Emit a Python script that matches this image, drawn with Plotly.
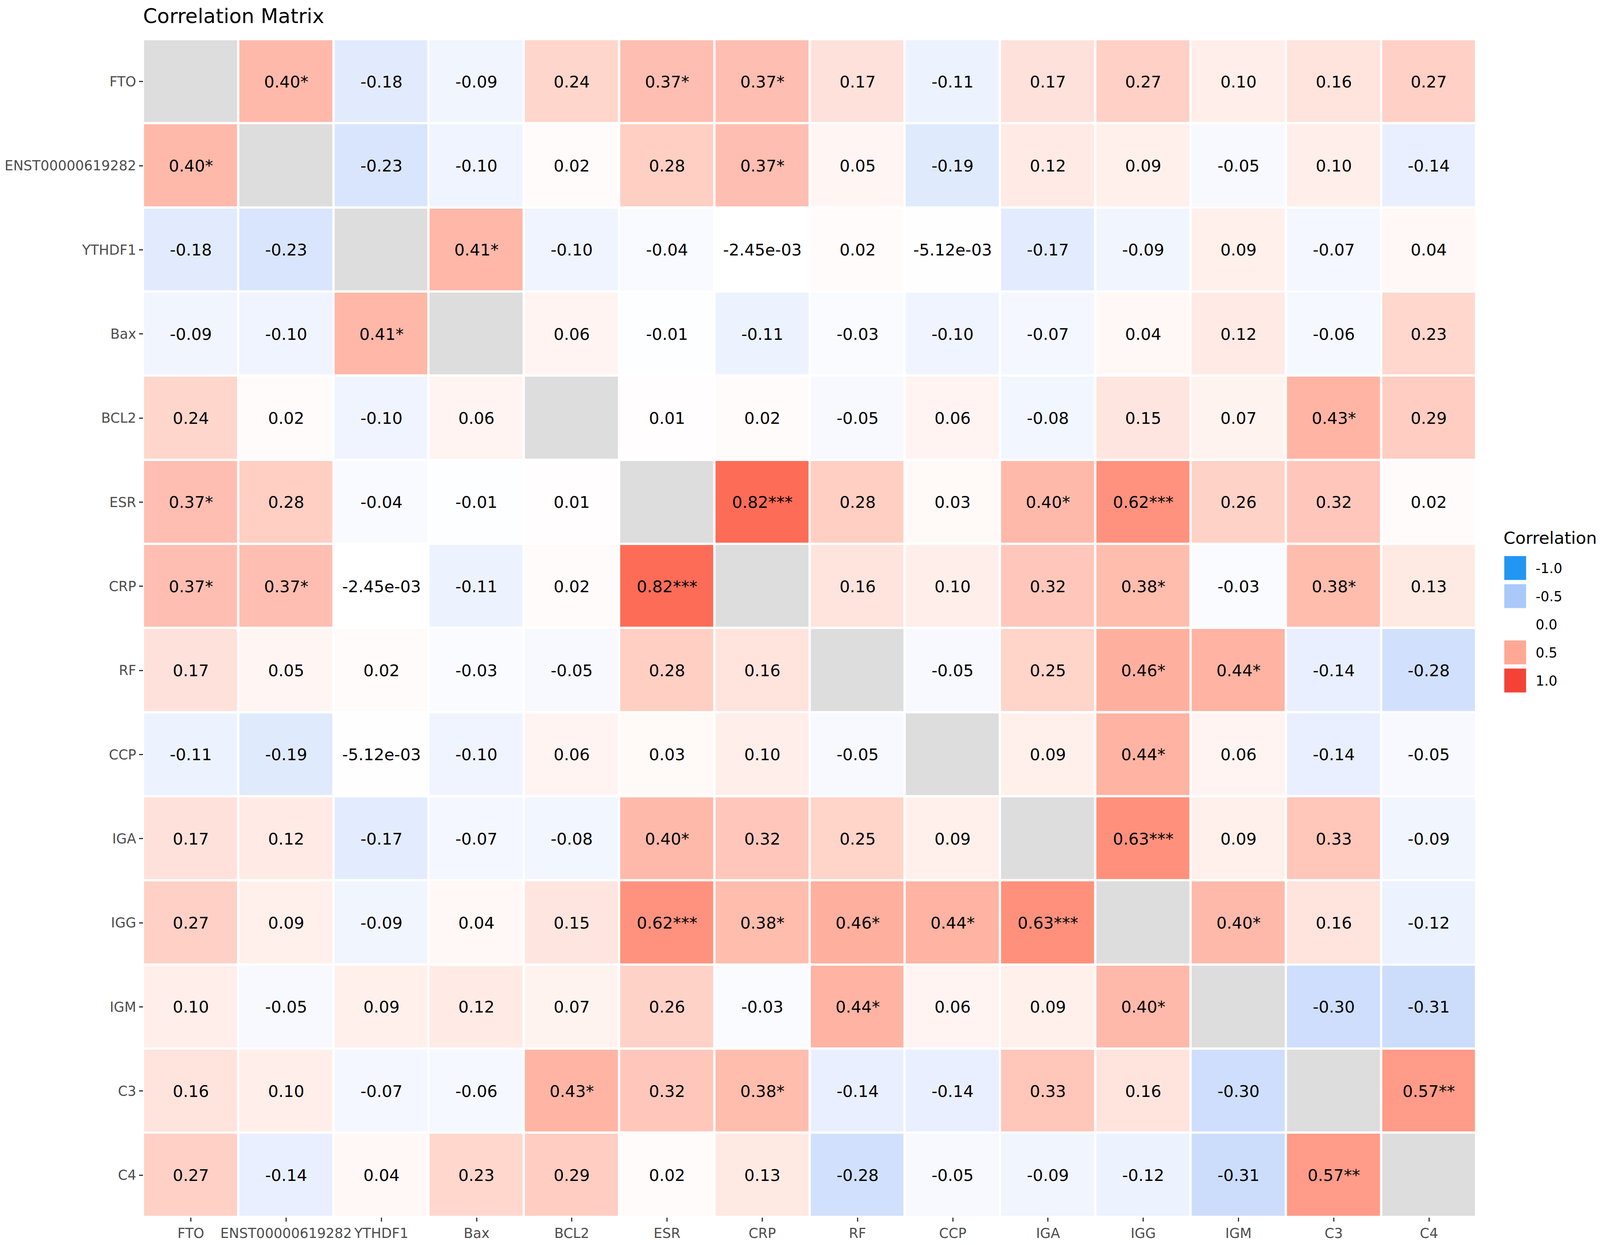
import numpy as np
import plotly.graph_objects as go

variables = ["FTO", "ENST00000619282", "YTHDF1", "Bax", "BCL2", "ESR", "CRP",
             "RF", "CCP", "IGA", "IGG", "IGM", "C3", "C4"]

# correlation coefficients as printed in the cells (None = diagonal)
corr = [
    [None, 0.40, -0.18, -0.09, 0.24, 0.37, 0.37, 0.17, -0.11, 0.17, 0.27, 0.10, 0.16, 0.27],
    [0.40, None, -0.23, -0.10, 0.02, 0.28, 0.37, 0.05, -0.19, 0.12, 0.09, -0.05, 0.10, -0.14],
    [-0.18, -0.23, None, 0.41, -0.10, -0.04, -0.00245, 0.02, -0.00512, -0.17, -0.09, 0.09, -0.07, 0.04],
    [-0.09, -0.10, 0.41, None, 0.06, -0.01, -0.11, -0.03, -0.10, -0.07, 0.04, 0.12, -0.06, 0.23],
    [0.24, 0.02, -0.10, 0.06, None, 0.01, 0.02, -0.05, 0.06, -0.08, 0.15, 0.07, 0.43, 0.29],
    [0.37, 0.28, -0.04, -0.01, 0.01, None, 0.82, 0.28, 0.03, 0.40, 0.62, 0.26, 0.32, 0.02],
    [0.37, 0.37, -0.00245, -0.11, 0.02, 0.82, None, 0.16, 0.10, 0.32, 0.38, -0.03, 0.38, 0.13],
    [0.17, 0.05, 0.02, -0.03, -0.05, 0.28, 0.16, None, -0.05, 0.25, 0.46, 0.44, -0.14, -0.28],
    [-0.11, -0.19, -0.00512, -0.10, 0.06, 0.03, 0.10, -0.05, None, 0.09, 0.44, 0.06, -0.14, -0.05],
    [0.17, 0.12, -0.17, -0.07, -0.08, 0.40, 0.32, 0.25, 0.09, None, 0.63, 0.09, 0.33, -0.09],
    [0.27, 0.09, -0.09, 0.04, 0.15, 0.62, 0.38, 0.46, 0.44, 0.63, None, 0.40, 0.16, -0.12],
    [0.10, -0.05, 0.09, 0.12, 0.07, 0.26, -0.03, 0.44, 0.06, 0.09, 0.40, None, -0.30, -0.31],
    [0.16, 0.10, -0.07, -0.06, 0.43, 0.32, 0.38, -0.14, -0.14, 0.33, 0.16, -0.30, None, 0.57],
    [0.27, -0.14, 0.04, 0.23, 0.29, 0.02, 0.13, -0.28, -0.05, -0.09, -0.12, -0.31, 0.57, None],
]

# significance stars (upper triangle, mirrored below)
sig_pairs = [
    ("FTO", "ENST00000619282", "*"), ("FTO", "ESR", "*"), ("FTO", "CRP", "*"),
    ("ENST00000619282", "CRP", "*"), ("YTHDF1", "Bax", "*"), ("BCL2", "C3", "*"),
    ("ESR", "CRP", "***"), ("ESR", "IGA", "*"), ("ESR", "IGG", "***"),
    ("CRP", "IGG", "*"), ("CRP", "C3", "*"), ("RF", "IGG", "*"), ("RF", "IGM", "*"),
    ("CCP", "IGG", "*"), ("IGA", "IGG", "***"), ("IGG", "IGM", "*"), ("C3", "C4", "**"),
]

legend_breaks = [-1.0, -0.5, 0.0, 0.5, 1.0]

LOW, MID, HIGH = "#2196F3", "#FFFFFF", "#F44336"
NA_COLOR = "#DDDDDD"
FONT = "DejaVu Sans"
# reference measured in screen pixels; the page is drawn at ~1.2 device px per css px
W, H = 4988, 3187
S = 1 / 1.2

# --- colour scale: ggplot-like gradient2, interpolated in Lab space
M = np.array([[0.4124, 0.3576, 0.1805],
              [0.2126, 0.7152, 0.0722],
              [0.0193, 0.1192, 0.9505]])
WHITE = np.array([0.95047, 1.0, 1.08883])


def hex_to_lab(h):
    rgb = np.array([int(h[i:i + 2], 16) for i in (1, 3, 5)]) / 255
    lin = np.where(rgb <= 0.04045, rgb / 12.92, ((rgb + 0.055) / 1.055) ** 2.4)
    xyz = M @ lin / WHITE
    f = np.where(xyz > (6 / 29) ** 3, np.cbrt(xyz), xyz / (3 * (6 / 29) ** 2) + 4 / 29)
    return np.array([116 * f[1] - 16, 500 * (f[0] - f[1]), 200 * (f[1] - f[2])])


def lab_to_rgb(lab):
    fy = (lab[0] + 16) / 116
    f = np.array([fy + lab[1] / 500, fy, fy - lab[2] / 200])
    xyz = np.where(f > 6 / 29, f ** 3, 3 * (6 / 29) ** 2 * (f - 4 / 29)) * WHITE
    lin = np.clip(np.linalg.inv(M) @ xyz, 0, 1)
    rgb = np.where(lin <= 0.0031308, 12.92 * lin, 1.055 * lin ** (1 / 2.4) - 0.055)
    r, g, b = np.round(rgb * 255).astype(int)
    return f"rgb({r},{g},{b})"


lab_low, lab_mid, lab_high = hex_to_lab(LOW), hex_to_lab(MID), hex_to_lab(HIGH)
colorscale = []
for t in np.linspace(0, 1, 41):
    v = 2 * t - 1
    end = lab_low if v < 0 else lab_high
    colorscale.append([float(t), lab_to_rgb(lab_mid + abs(v) * (end - lab_mid))])

# --- cell labels
n = len(variables)
stars = [["" for _ in range(n)] for _ in range(n)]
for a, b, s in sig_pairs:
    i, j = variables.index(a), variables.index(b)
    stars[i][j] = stars[j][i] = s


def fmt(v):
    if v is None:
        return ""
    if abs(v) < 0.01:
        return f"{v:.2e}"
    return f"{v:.2f}"


text = [[fmt(corr[i][j]) + stars[i][j] for j in range(n)] for i in range(n)]
diag = [[1 if i == j else None for j in range(n)] for i in range(n)]

fig = go.Figure()

fig.add_trace(go.Heatmap(
    z=corr, x=variables, y=variables,
    text=text, texttemplate="%{text}",
    textfont=dict(family=FONT, size=50 * S, color="black"),
    colorscale=colorscale, zmin=-1, zmax=1,
    xgap=7 * S, ygap=7 * S, showscale=False, hoverongaps=False,
))

fig.add_trace(go.Heatmap(
    z=diag, x=variables, y=variables,
    colorscale=[[0, NA_COLOR], [1, NA_COLOR]],
    xgap=7 * S, ygap=7 * S, showscale=False, hoverongaps=False,
))

# legend keys drawn as a small heatmap on its own axes
fig.add_trace(go.Heatmap(
    z=[[b] for b in legend_breaks], x=["key"], y=legend_breaks,
    colorscale=colorscale, zmin=-1, zmax=1,
    ygap=13 * S, showscale=False, xaxis="x2", yaxis="y2",
))

tick_style = dict(
    ticks="outside", ticklen=12 * S, tickwidth=3 * S, tickcolor="#333333",
    tickfont=dict(family=FONT, size=42 * S, color="#4D4D4D"),
    showgrid=False, zeroline=False, showline=False, automargin=False,
)

fig.update_layout(
    autosize=True,
    margin=dict(l=0, r=0, t=0, b=0),
    paper_bgcolor="white", plot_bgcolor="white",
    font=dict(family=FONT),
    title=dict(text="Correlation Matrix", x=438 / W, xanchor="left",
               y=1 - 33 / H, yanchor="middle", xref="paper", yref="paper",
               font=dict(family=FONT, size=62 * S, color="black")),
    xaxis=dict(domain=[438.5 / W, 4611.5 / W], anchor="y", tickangle=0, **tick_style),
    yaxis=dict(domain=[1 - 3123.5 / H, 1 - 93.5 / H], anchor="x",
               autorange="reversed", **tick_style),
    xaxis2=dict(domain=[4698 / W, 4767 / W], anchor="y2", showticklabels=False,
                ticks="", showgrid=False, zeroline=False, showline=False),
    yaxis2=dict(domain=[1 - 1779.5 / H, 1 - 1417.5 / H], anchor="x2", side="right",
                range=[1.25, -1.25], tickvals=legend_breaks,
                ticktext=[f"{b:.1f}" for b in legend_breaks],
                ticks="", ticklabelstandoff=round(28 * S),
                tickfont=dict(family=FONT, size=42 * S, color="black"),
                showgrid=False, zeroline=False, showline=False, automargin=False),
    annotations=[dict(text="Correlation", x=4693 / W, y=1 - 1376 / H,
                      xref="paper", yref="paper", xanchor="left", yanchor="middle",
                      showarrow=False, font=dict(family=FONT, size=52 * S, color="black"))],
)

fig.write_html("out.html")
